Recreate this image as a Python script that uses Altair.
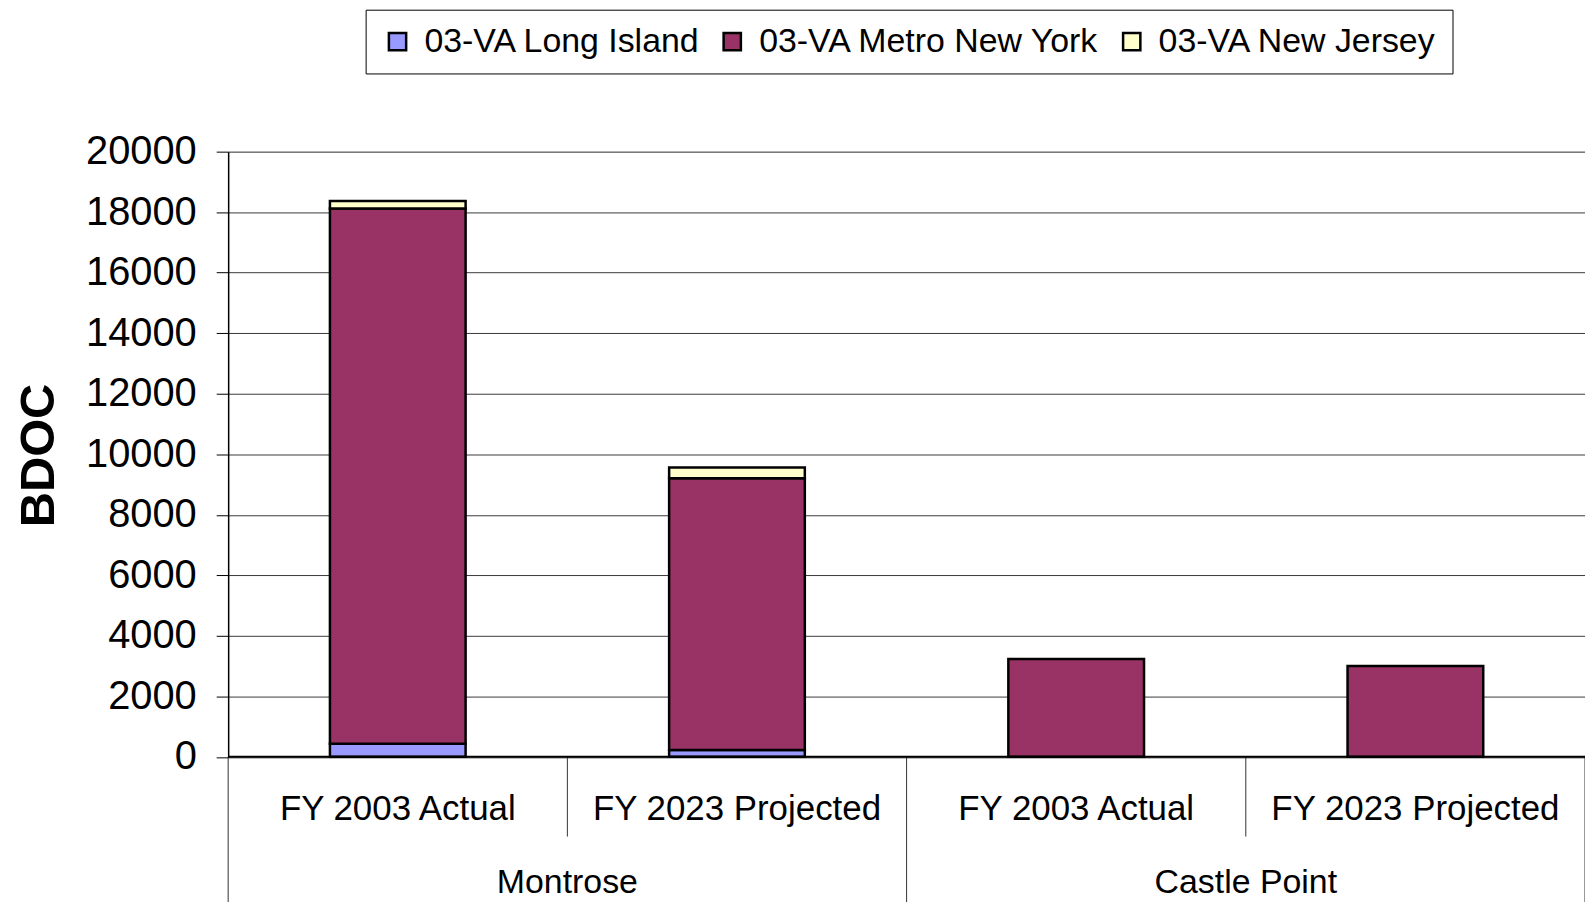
import altair as alt
import pandas as pd

# ---- data ----
sites = ["Montrose", "Castle Point"]
periods = ["FY 2003 Actual", "FY 2023 Projected"]
series_names = ["03-VA Long Island", "03-VA Metro New York", "03-VA New Jersey"]
long_island = [430, 230, 0, 0]
metro_new_york = [17690, 8980, 3230, 3005]
new_jersey = [250, 350, 0, 0]
y_ticks = [0, 2000, 4000, 6000, 8000, 10000, 12000, 14000, 16000, 18000, 20000]
y_title = "BDOC"
series_colors = ["#9999FF", "#993366", "#FFFFCC"]

FONT = "Liberation Sans"
W = 1362
H = 607.5

cats = [(s, p) for s in sites for p in periods]
rows = []
for si, vals in enumerate([long_island, metro_new_york, new_jersey]):
    for ci, (s, p) in enumerate(cats):
        rows.append(dict(site=s, period=p, idx=ci, series=series_names[si],
                         rank=si, value=vals[ci]))
df = pd.DataFrame(rows)

cat_df = pd.DataFrame({"site": [c[0] for c in cats],
                       "period": [c[1] for c in cats],
                       "idx": list(range(len(cats)))})
site_df = pd.DataFrame({"site": sites, "sidx": list(range(len(sites)))})
bounds_df = pd.DataFrame({"b": list(range(len(cats) + 1))})
title_df = pd.DataFrame({"t": [y_title]})

np_ = len(periods)
xscale = alt.Scale(domain=[0, len(cats)], nice=False, zero=False)
yscale = alt.Scale(domain=[0, 20000], nice=False, zero=True)

bars = (
    alt.Chart(df)
    .transform_filter("datum.value > 0")
    .transform_stack(stack="value", groupby=["idx"], as_=["v0", "v1"],
                     sort=[alt.SortField("rank", order="ascending")])
    .transform_calculate(x0="datum.idx + 0.3", x1="datum.idx + 0.7")
    .mark_bar(stroke="black", strokeWidth=2.5)
    .encode(
        x=alt.X("x0:Q", scale=xscale, axis=None),
        x2="x1:Q",
        y=alt.Y("v0:Q", scale=yscale,
                axis=alt.Axis(values=y_ticks, format="d", title=None, tickSize=12,
                              tickColor="black", tickWidth=1,
                              domainColor="black", domainWidth=1.5,
                              labelFont=FONT, labelFontSize=40,
                              labelColor="black", labelPadding=20,
                              labelFlush=False, labelOverlap=False,
                              grid=True, gridColor="#3a3a3a", gridWidth=1)),
        y2="v1:Q",
        color=alt.Color("series:N",
                        scale=alt.Scale(domain=series_names, range=series_colors),
                        legend=alt.Legend(title=None, orient="none",
                                          legendX=138, legendY=-142.5,
                                          direction="horizontal",
                                          symbolType="square", symbolSize=300,
                                          symbolStrokeColor="black",
                                          symbolStrokeWidth=2.5,
                                          symbolOpacity=1,
                                          labelFont=FONT, labelFontSize=34,
                                          labelColor="black", labelOffset=10,
                                          columnPadding=14, labelLimit=0,
                                          fillColor="white", strokeColor="black",
                                          padding=15)),
    )
)

bottom_line = (
    alt.Chart(title_df)
    .mark_rule(color="black", strokeWidth=2)
    .encode(x=alt.value(0), x2=alt.value(W), y=alt.value(H))
)

short_sep = (
    alt.Chart(bounds_df)
    .transform_filter(f"datum.b % {np_} != 0")
    .mark_rule(color="#333333", strokeWidth=1)
    .encode(x=alt.X("b:Q", scale=xscale, axis=None),
            y=alt.value(H), y2=alt.value(H + 80))
)

long_sep = (
    alt.Chart(bounds_df)
    .transform_filter(f"datum.b % {np_} == 0")
    .mark_rule(color="#333333", strokeWidth=1)
    .encode(x=alt.X("b:Q", scale=xscale, axis=None),
            y=alt.value(H), y2=alt.value(H + 150))
)

period_text = (
    alt.Chart(cat_df)
    .transform_calculate(c="datum.idx + 0.5")
    .mark_text(font=FONT, fontSize=35, color="black", align="center",
               baseline="middle")
    .encode(x=alt.X("c:Q", scale=xscale, axis=None), y=alt.value(H + 52),
            text="period:N")
)

site_text = (
    alt.Chart(site_df)
    .transform_calculate(c=f"datum.sidx * {np_} + {np_} / 2")
    .mark_text(font=FONT, fontSize=34, color="black", align="center",
               baseline="middle")
    .encode(x=alt.X("c:Q", scale=xscale, axis=None), y=alt.value(H + 127),
            text="site:N")
)

ytitle = (
    alt.Chart(title_df)
    .mark_text(font=FONT, fontSize=49, fontWeight="bold", color="black",
               angle=270, align="center", baseline="middle")
    .encode(x=alt.value(-190), y=alt.value(305), text="t:N")
)

chart = (
    alt.layer(short_sep, long_sep, bars, bottom_line, period_text, site_text, ytitle)
    .properties(width=W, height=H,
                autosize=alt.AutoSizeParams(type="none"),
                padding={"left": 221, "top": 142.5, "right": 0, "bottom": 144})
    .configure_view(fill="#C0C0C0", stroke="#3a3a3a", strokeWidth=1)
    .configure(background="white")
)

chart.save("out.html", embed_options={"renderer": "svg", "actions": False})
